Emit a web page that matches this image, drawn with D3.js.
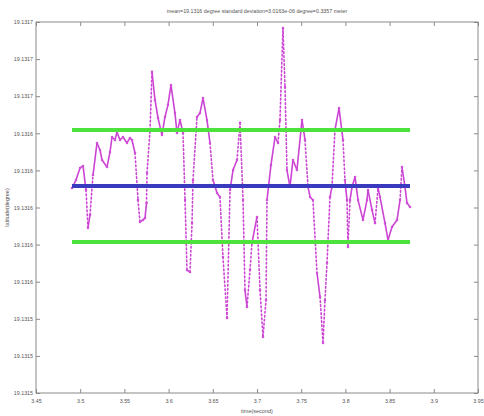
<!DOCTYPE html>
<html>
<head>
<meta charset="utf-8">
<script src="https://cdn.jsdelivr.net/npm/d3@7"></script>
<style>
  html, body { margin: 0; padding: 0; background: #ffffff; }
  svg { display: block; }
  text { font-family: "Liberation Sans", Arial, sans-serif; fill: #555; }
</style>
</head>
<body>
<svg id="chart" width="484" height="416"></svg>
<script>
// ---- data (time in units as on the axis, latitude as offset in 1e-6 degree above 19.1315) ----
const timeValues = [
  3.4907, 3.4952, 3.4998, 3.5032, 3.5066, 3.5088, 3.5111, 3.5145, 3.5190, 3.5224,
  3.5247, 3.5303, 3.5337, 3.5360, 3.5394, 3.5416, 3.5450, 3.5484, 3.5529, 3.5563,
  3.5586, 3.5620, 3.5654, 3.5676, 3.5710, 3.5733, 3.5750, 3.5756, 3.5790, 3.5812,
  3.5846, 3.5880, 3.5925, 3.5959, 3.5993, 3.6027, 3.6072, 3.6095, 3.6129, 3.6163,
  3.6186, 3.6208, 3.6242, 3.6265, 3.6276, 3.6321, 3.6355, 3.6389, 3.6434, 3.6468,
  3.6502, 3.6548, 3.6581, 3.6615, 3.6661, 3.6695, 3.6729, 3.6774, 3.6808, 3.6842,
  3.6864, 3.6887, 3.6921, 3.6943, 3.7000, 3.7034, 3.7068, 3.7102, 3.7113, 3.7158,
  3.7204, 3.7238, 3.7260, 3.7294, 3.7317, 3.7339, 3.7373, 3.7407, 3.7452, 3.7509,
  3.7543, 3.7577, 3.7600, 3.7633, 3.7679, 3.7713, 3.7747, 3.7769, 3.7792, 3.7826,
  3.7848, 3.7882, 3.7928, 3.7973, 3.7995, 3.8018, 3.8029, 3.8052, 3.8075, 3.8109,
  3.8143, 3.8199, 3.8244, 3.8256, 3.8301, 3.8335, 3.8369, 3.8391, 3.8448, 3.8482,
  3.8527, 3.8584, 3.8618, 3.8640, 3.8674, 3.8697, 3.8731
];
const latOffsetValues = [
  110.5, 114.8, 121.3, 122.4, 109.4, 89.0, 96.0, 117.5, 134.8, 131.0,
  125.6, 121.8, 129.9, 138.0, 136.4, 140.7, 136.4, 138.0, 134.8, 137.5,
  136.4, 129.4, 104.0, 92.2, 93.3, 94.3, 102.4, 118.6, 141.8, 173.1,
  158.0, 148.3, 139.1, 148.8, 155.3, 166.0, 150.9, 140.2, 147.2, 140.2,
  104.0, 66.3, 65.2, 91.6, 114.8, 148.8, 150.9, 159.0, 147.2, 134.8,
  114.8, 107.8, 105.7, 73.3, 40.4, 109.4, 120.2, 125.6, 145.6, 104.0,
  55.5, 46.4, 66.3, 80.9, 94.9, 55.5, 30.2, 50.1, 104.0, 122.9,
  138.0, 134.8, 147.2, 196.8, 165.0, 120.2, 111.1, 125.6, 120.2, 147.2,
  136.4, 111.1, 105.7, 104.0, 64.7, 51.8, 27.0, 50.1, 70.1, 105.7,
  111.1, 141.8, 153.6, 136.4, 114.8, 104.0, 78.7, 104.0, 111.1, 116.4,
  104.0, 93.3, 104.0, 109.4, 98.7, 91.6, 110.5, 105.7, 91.6, 82.5,
  89.5, 93.3, 104.0, 121.8, 111.1, 102.4, 100.3
];
const meanValue = 111.6;   // mean offset
const stdValue = 30.2;     // standard deviation offset

const xTicks = [3.45, 3.5, 3.55, 3.6, 3.65, 3.7, 3.75, 3.8, 3.85, 3.9, 3.95];
const xTickLabels = ["3.45", "3.5", "3.55", "3.6", "3.65", "3.7", "3.75", "3.8", "3.85", "3.9", "3.95"];
const yTicks = [0, 20, 40, 60, 80, 100, 120, 140, 160, 180, 200];
const yTickLabels = ["19.1315", "19.1315", "19.1315", "19.1316", "19.1316", "19.1316",
                     "19.1316", "19.1316", "19.1317", "19.1317", "19.1317"];

const titleText = "mean=19.1316 degree   standard deviation=3.0163e-06 degree=0.3357 meter";
const xLabelText = "time(second)";
const yLabelText = "latitude(degree)";

// ---- layout ----
const svg = d3.select("#chart");
const mLeft = 36, mRight = 478, mTop = 22, mBottom = 393;

const x = d3.scaleLinear().domain([3.45, 3.95]).range([mLeft, mRight]);
const y = d3.scaleLinear().domain([0, 200]).range([mBottom, mTop]);

const data = timeValues.map((t, i) => ({ t, v: latOffsetValues[i] }));

// axes (MATLAB style: inward ticks on all sides)
const tickLen = 4;
const axisColor = "#8a8a8a";
function styleAxis(g) {
  g.select(".domain").remove();
  g.selectAll(".tick line").attr("stroke", axisColor).attr("stroke-width", 1);
  g.selectAll(".tick text").attr("font-size", "5.3px").attr("fill", "#555");
}

svg.append("g")
  .attr("transform", `translate(0,${mBottom})`)
  .call(d3.axisBottom(x).tickValues(xTicks).tickSize(-tickLen).tickPadding(6)
        .tickFormat((d, i) => xTickLabels[i]))
  .call(styleAxis);
svg.append("g")
  .attr("transform", `translate(0,${mTop})`)
  .call(d3.axisTop(x).tickValues(xTicks).tickSize(-tickLen).tickFormat(""))
  .call(styleAxis);
svg.append("g")
  .attr("transform", `translate(${mLeft},0)`)
  .call(d3.axisLeft(y).tickValues(yTicks).tickSize(-tickLen).tickPadding(3)
        .tickFormat((d, i) => yTickLabels[i]))
  .call(styleAxis);
svg.append("g")
  .attr("transform", `translate(${mRight},0)`)
  .call(d3.axisRight(y).tickValues(yTicks).tickSize(-tickLen).tickFormat(""))
  .call(styleAxis);

svg.append("rect")
  .attr("x", mLeft).attr("y", mTop)
  .attr("width", mRight - mLeft).attr("height", mBottom - mTop)
  .attr("fill", "none").attr("stroke", axisColor).attr("stroke-width", 1);

// data series: segments; the steepest ones look dotted as in the reference
const segs = d3.pairs(data);
svg.append("g").selectAll("line")
  .data(segs).join("line")
  .attr("x1", d => x(d[0].t)).attr("y1", d => y(d[0].v))
  .attr("x2", d => x(d[1].t)).attr("y2", d => y(d[1].v))
  .attr("stroke", "#cc44d4")
  .attr("stroke-width", 1.6)
  .attr("stroke-linecap", "round")
  .attr("stroke-dasharray", d => {
    const dx = Math.abs(x(d[1].t) - x(d[0].t));
    const dy = Math.abs(y(d[1].v) - y(d[0].v));
    return dy > 10 * dx ? "1.6,2.4" : null;
  });
svg.append("g").selectAll("circle")
  .data(data).join("circle")
  .attr("cx", d => x(d.t)).attr("cy", d => y(d.v))
  .attr("r", 1.3).attr("fill", "#d050d8");

// mean and +/- std lines
const tMin = d3.min(timeValues), tMax = d3.max(timeValues);
const hLines = [
  { v: meanValue + stdValue, c: "#4ee23c" },
  { v: meanValue - stdValue, c: "#4ee23c" },
  { v: meanValue, c: "#3a3abf" }
];
svg.append("g").selectAll("line")
  .data(hLines).join("line")
  .attr("x1", x(tMin)).attr("x2", x(tMax))
  .attr("y1", d => y(d.v)).attr("y2", d => y(d.v))
  .attr("stroke", d => d.c).attr("stroke-width", 4);

// texts
svg.append("text")
  .attr("x", (mLeft + mRight) / 2).attr("y", 13)
  .attr("text-anchor", "middle").attr("font-size", "5.3px")
  .text(titleText);
svg.append("text")
  .attr("x", (mLeft + mRight) / 2).attr("y", 413)
  .attr("text-anchor", "middle").attr("font-size", "5.5px")
  .text(xLabelText);
svg.append("text")
  .attr("transform", `translate(9,${(mTop + mBottom) / 2}) rotate(-90)`)
  .attr("text-anchor", "middle").attr("font-size", "5.5px")
  .text(yLabelText);
</script>
</body>
</html>
